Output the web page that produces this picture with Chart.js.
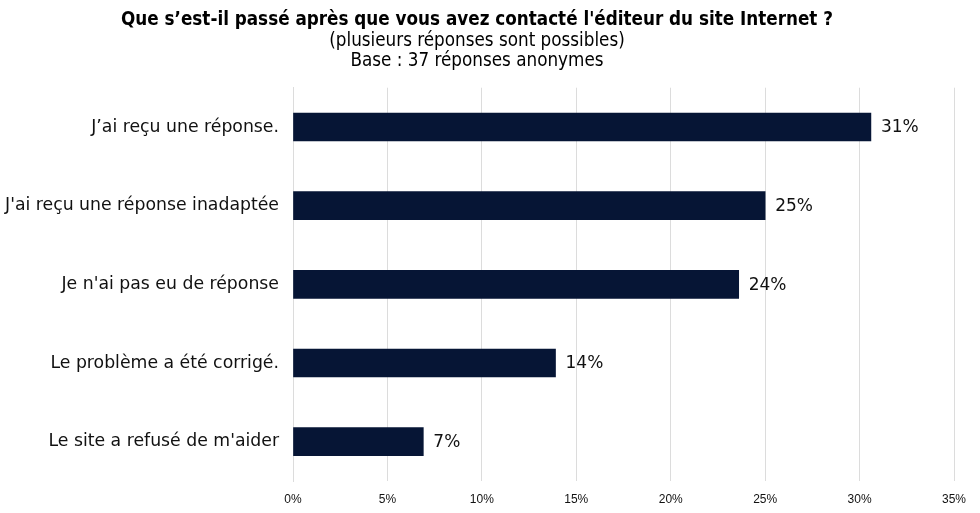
<!DOCTYPE html>
<html>
<head>
<meta charset="utf-8">
<script src="https://cdn.jsdelivr.net/npm/chart.js@4.4.0/dist/chart.umd.min.js"></script>
<style>
  html, body { margin: 0; padding: 0; background: #fff; }
  #wrap { width: 980px; height: 513px; }
</style>
</head>
<body>
<div id="wrap"><canvas id="myChart" width="980" height="513"></canvas></div>
<script>
// data
var categories = [
    "J\u2019ai reçu une réponse.",
    "J'ai reçu une réponse inadaptée",
    "Je n'ai pas eu de réponse",
    "Le problème a été corrigé.",
    "Le site a refusé de m'aider"
];
var percents = [30.6, 25.0, 23.6, 13.9, 6.9];
var tickValues = [0, 5, 10, 15, 20, 25, 30, 35];

var titleText = "Que s\u2019est-il passé après que vous avez contacté l'éditeur du site Internet ?";
var subtitleLines = ["(plusieurs réponses sont possibles)", "Base : 37 réponses anonymes"];

// draws the % next to each bar
var valueLabels = {
    id: 'valueLabels',
    afterDatasetsDraw: function (chart) {
        var ctx = chart.ctx;
        var meta = chart.getDatasetMeta(0);
        ctx.save();
        ctx.font = '17px "DejaVu Sans"';
        ctx.fillStyle = '#111';
        ctx.textAlign = 'left';
        ctx.textBaseline = 'middle';
        meta.data.forEach(function (bar, i) {
            ctx.fillText(Math.round(percents[i]) + '%', bar.x + 10, bar.y + 1);
        });
        ctx.restore();
    }
};

var ctx = document.getElementById('myChart').getContext('2d');
var myChart = new Chart(ctx, {
    type: 'bar',
    data: {
        labels: categories,
        datasets: [{
            data: percents,
            backgroundColor: '#061535',
            borderWidth: 0,
            barThickness: 28
        }]
    },
    plugins: [valueLabels],
    options: {
        indexAxis: 'y',
        responsive: false,
        animation: false,
        layout: { padding: { left: 0, right: 26, top: 0, bottom: 0 } },
        plugins: {
            legend: { display: false },
            tooltip: { enabled: false },
            title: {
                display: true,
                text: titleText,
                color: '#000',
                font: { family: '"DejaVu Sans Condensed"', size: 18.7, weight: 'bold', lineHeight: 1.2 },
                padding: { top: 9, bottom: 0 }
            },
            subtitle: {
                display: true,
                text: subtitleLines,
                color: '#000',
                font: { family: '"DejaVu Sans Condensed"', size: 18.7, lineHeight: 1.05 },
                padding: { top: 0, bottom: 17 }
            }
        },
        scales: {
            x: {
                min: 0,
                max: 35,
                afterBuildTicks: function (axis) {
                    axis.ticks = tickValues.map(function (v) { return { value: v }; });
                },
                afterFit: function (axis) { axis.height = 32; },
                ticks: {
                    color: '#111',
                    font: { family: '"Liberation Sans"', size: 12 },
                    padding: 11,
                    callback: function (v) { return v + '%'; }
                },
                grid: { color: '#dcdcdc', drawTicks: false },
                border: { display: false }
            },
            y: {
                afterFit: function (axis) { axis.width = 293; },
                ticks: {
                    color: '#111',
                    font: { family: '"DejaVu Sans"', size: 17.3 },
                    padding: 14
                },
                grid: { display: false, drawTicks: false },
                border: { display: true, color: '#dcdcdc' }
            }
        }
    }
});
</script>
</body>
</html>
